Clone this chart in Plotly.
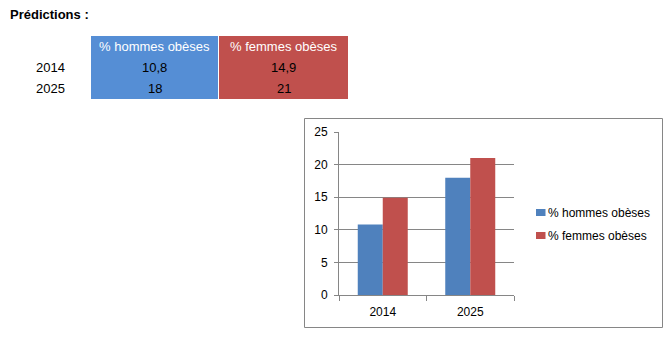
import plotly.graph_objects as go

W, H = 667, 339

years = ["2014", "2025"]
series_names = ["% hommes obèses", "% femmes obèses"]
hommes = [10.8, 18]
femmes = [14.9, 21]
title_text = "Prédictions :"

bar_colors = ["#4F81BD", "#C0504D"]
cell_colors = ["#558ED5", "#C0504D"]
FONT = "Liberation Sans"


def px(x):
    return x / W


def py(y):
    return 1 - y / H


def fmt(v):
    s = ("%g" % v)
    return s.replace(".", ",")


fig = go.Figure()
for name, vals, col in zip(series_names, [hommes, femmes], bar_colors):
    fig.add_trace(go.Bar(x=years, y=vals, name=name, marker=dict(color=col, line=dict(width=0)),
                         showlegend=False))

shapes = []
annotations = []

# Title
annotations.append(dict(x=px(8), y=py(15), xref="paper", yref="paper", text="<b>%s</b>" % title_text,
                        showarrow=False, xanchor="left", yanchor="middle",
                        font=dict(family=FONT, size=13, color="#000000")))

# Table
col_x = [(91, 217), (219, 347)]
row_y = [(36, 56), (57, 77), (78, 98)]
columns = [hommes, femmes]
for ci, ((x0, x1), name, vals, cc) in enumerate(zip(col_x, series_names, columns, cell_colors)):
    for ri, (y0, y1) in enumerate(row_y):
        shapes.append(dict(type="rect", xref="paper", yref="paper", x0=px(x0), x1=px(x1 + 1),
                           y0=py(y1 + 1), y1=py(y0), fillcolor=cc, line=dict(width=0), layer="below"))
        if ri == 0:
            txt, tc = name, "#FFFFFF"
        else:
            txt, tc = fmt(vals[ri - 1]), "#000000"
        annotations.append(dict(x=px((x0 + x1 + 1) / 2), y=py((y0 + y1 + 1) / 2), xref="paper", yref="paper",
                                text=txt, showarrow=False, xanchor="center", yanchor="middle",
                                font=dict(family=FONT, size=13, color=tc)))
for ri, yr in enumerate(years):
    y0, y1 = row_y[ri + 1]
    annotations.append(dict(x=px(50), y=py((y0 + y1 + 1) / 2), xref="paper", yref="paper",
                            text=yr, showarrow=False, xanchor="center", yanchor="middle",
                            font=dict(family=FONT, size=13, color="#000000")))

# Chart box
shapes.append(dict(type="rect", xref="paper", yref="paper", x0=px(304.5), x1=px(662.5),
                   y0=py(327.5), y1=py(118.5), line=dict(color="#868686", width=1),
                   fillcolor="rgba(0,0,0,0)", layer="below"))

# Legend (drawn manually to match the tight Excel spacing)
leg_y = [212.5, 235.5]
for name, col, ly in zip(series_names, bar_colors, leg_y):
    shapes.append(dict(type="rect", xref="paper", yref="paper", x0=px(536), x1=px(545.5),
                       y0=py(ly + 3.5), y1=py(ly - 3.5), fillcolor=col, line=dict(width=0)))
    annotations.append(dict(x=px(546), y=py(ly), xref="paper", yref="paper", text=name,
                            showarrow=False, xanchor="left", yanchor="middle",
                            font=dict(family=FONT, size=12, color="#000000")))

fig.update_layout(
    width=W, height=H,
    margin=dict(l=0, r=0, t=0, b=0, autoexpand=False),
    paper_bgcolor="#FFFFFF", plot_bgcolor="#FFFFFF",
    barmode="group", bargap=1.5 / 3.5, bargroupgap=0,
    font=dict(family=FONT, size=12, color="#000000"),
    shapes=shapes, annotations=annotations,
    showlegend=False,
    xaxis=dict(domain=[px(339), px(514)], type="category", showgrid=False,
               showline=True, linecolor="#868686", linewidth=1,
               ticks="outside", tickson="boundaries", ticklen=5, tickcolor="#868686",
               ticklabelstandoff=6,
               tickfont=dict(family=FONT, size=12)),
    yaxis=dict(domain=[py(295), py(132)], range=[0, 25], dtick=5, showgrid=True,
               gridcolor="#868686", gridwidth=1, zeroline=False,
               showline=True, linecolor="#868686", linewidth=1,
               ticks="outside", ticklen=4, tickcolor="#868686",
               ticklabelstandoff=4,
               tickfont=dict(family=FONT, size=12)),
)

fig.write_html("out.html")
